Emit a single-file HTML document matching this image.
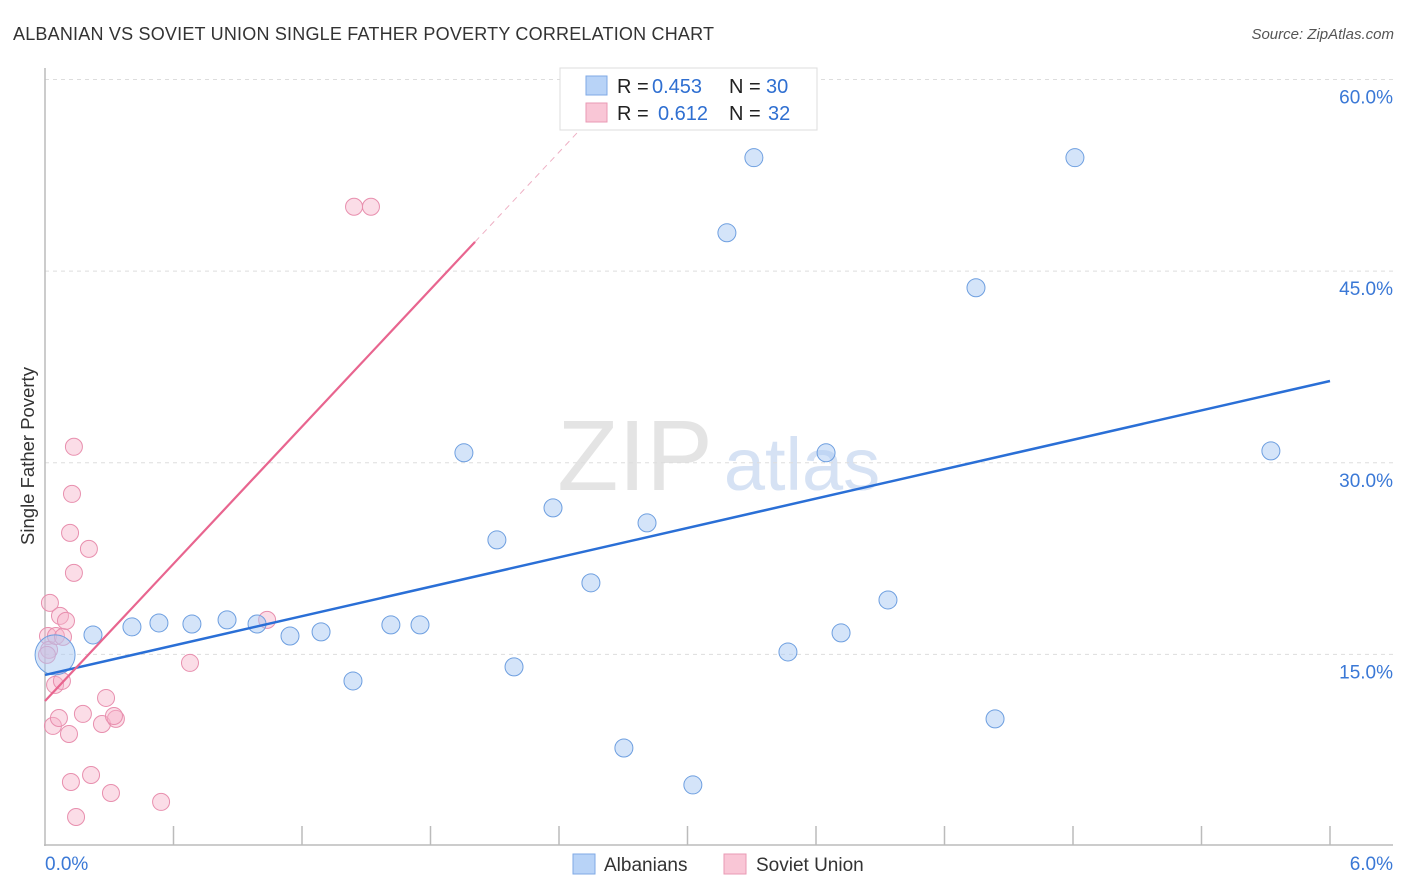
<!DOCTYPE html>
<html><head><meta charset="utf-8">
<style>
body{margin:0;background:#fff;font-family:"Liberation Sans",sans-serif;}
#wrap{position:relative;width:1406px;height:892px;overflow:hidden;}
svg text{font-family:"Liberation Sans",sans-serif;}
</style></head>
<body>
<div id="wrap">
<svg id="chart" width="1406" height="892">
  <text x="13" y="40" font-size="18" fill="#333" textLength="701">ALBANIAN VS SOVIET UNION SINGLE FATHER POVERTY CORRELATION CHART</text>
  <text x="1394" y="39" font-size="15" fill="#555" font-style="italic" text-anchor="end">Source: ZipAtlas.com</text>
  <text x="34" y="456" font-size="18.5" fill="#333" text-anchor="middle" transform="rotate(-90 34 456)">Single Father Poverty</text>
  <g>
    <text x="635" y="490" font-size="100" fill="#e4e4e4" text-anchor="middle" font-family="Liberation Serif,serif">ZIP</text>
    <text x="802" y="490" font-size="74" fill="#d6e2f4" text-anchor="middle">atlas</text>
  </g>
  <g id="grid"></g>
  <g id="axes"></g>
  <g id="marks"></g>
  <g>
    <rect x="560" y="68" width="257" height="62" fill="#fff" stroke="#ddd"/>
    <rect x="586" y="76" width="21" height="19" fill="#b8d3f7" stroke="#7fa9e6"/>
    <rect x="586" y="103" width="21" height="19" fill="#f9c6d6" stroke="#e99ab4"/>
    <text x="617" y="93" font-size="20" fill="#222">R =</text>
    <text x="652" y="93" font-size="20" fill="#2f6fd1">0.453</text>
    <text x="729" y="93" font-size="20" fill="#222">N =</text>
    <text x="766" y="93" font-size="20" fill="#2f6fd1">30</text>
    <text x="617" y="120" font-size="20" fill="#222">R =</text>
    <text x="658" y="120" font-size="20" fill="#2f6fd1">0.612</text>
    <text x="729" y="120" font-size="20" fill="#222">N =</text>
    <text x="768" y="120" font-size="20" fill="#2f6fd1">32</text>
  </g>
  <g>
    <rect x="573" y="854" width="22" height="20" fill="#b8d3f7" stroke="#7fa9e6"/>
    <text x="604" y="871" font-size="19" fill="#333">Albanians</text>
    <rect x="724" y="854" width="22" height="20" fill="#f9c6d6" stroke="#e99ab4"/>
    <text x="756" y="871" font-size="19" fill="#333">Soviet Union</text>
  </g>
</svg>
</div>
<script>
const yTicks=[15,30,45,60];
const yTickLabels=["15.0%","30.0%","45.0%","60.0%"];
const xTickCount=10;
const xEndLabels=["0.0%","6.0%"];
const blueX=[0.047,0.224,0.406,0.532,0.686,0.850,0.990,1.144,1.289,1.438,1.615,1.751,1.956,2.110,2.190,2.372,2.549,2.703,2.811,3.025,3.184,3.310,3.469,3.647,3.717,3.936,4.347,4.436,4.809,5.724];
const blueY=[14.96,16.52,17.15,17.46,17.38,17.70,17.38,16.44,16.76,12.92,17.31,17.31,30.78,23.96,14.02,26.47,20.60,7.67,25.29,4.78,48.00,53.88,15.19,30.78,16.68,19.26,43.70,9.95,53.88,30.93];
const pinkX=[0.023,0.014,0.019,0.051,0.084,0.070,0.098,0.135,0.126,0.117,0.205,0.135,0.047,0.079,0.037,0.065,0.112,0.177,0.285,0.266,0.331,0.322,0.677,1.037,1.443,1.522,0.121,0.215,0.308,0.542,0.145,0.009];
const pinkY=[19.03,16.44,15.35,16.44,16.37,18.01,17.62,31.25,27.56,24.51,23.26,21.38,12.61,12.92,9.40,10.02,8.77,10.34,11.59,9.55,9.95,10.18,14.33,17.70,50.04,50.04,5.01,5.56,4.15,3.45,2.27,14.96];
const blueTrend=[13.39,36.4];   // y at x=0 and x=6
const pinkTrend=[11.35,17.9];   // intercept, slope

const NS="http://www.w3.org/2000/svg";
const X=v=>45+v*(1330-45)/6;
const Y=v=>846-v*(846-79.5)/60;
function mk(tag,attrs,parent){const e=document.createElementNS(NS,tag);for(const k in attrs)e.setAttribute(k,attrs[k]);document.getElementById(parent).appendChild(e);return e;}

yTicks.forEach((t,i)=>{
  const g=mk('line',{x1:45,x2:1393,y1:Y(t),y2:Y(t),stroke:'#ddd','stroke-dasharray':'4 4'},'grid');
  
  
  const l=mk('text',{x:1393,y:Y(t)+24,'font-size':19,fill:'#3a78d6','text-anchor':'end'},'axes');
  l.textContent=yTickLabels[i];
  
  
});
let a=mk('line',{x1:45,x2:45,y1:68,y2:846,stroke:'#bbb','stroke-width':1.5},'axes');


a=mk('line',{x1:44,x2:1393,y1:845,y2:845,stroke:'#bbb','stroke-width':1.5},'axes');


for(let i=1;i<=xTickCount;i++){
  const t=mk('line',{x1:X(i*0.6),x2:X(i*0.6),y1:826,y2:845,stroke:'#bbb','stroke-width':1.5},'axes');
  
  
}
let xl=mk('text',{x:45,y:870,'font-size':19,fill:'#3a78d6'},'axes');xl.textContent=xEndLabels[0];


xl=mk('text',{x:1393,y:870,'font-size':19,fill:'#3a78d6','text-anchor':'end'},'axes');xl.textContent=xEndLabels[1];



pinkX.forEach((x,i)=>{
  const c=mk('circle',{cx:X(x),cy:Y(pinkY[i]),r:8.5,fill:'rgba(246,180,202,0.45)',stroke:'#e88fae','stroke-width':1},'marks');
  
  
});
blueX.forEach((x,i)=>{
  const c=mk('circle',{cx:X(x),cy:Y(blueY[i]),r:i===0?20:9,fill:'rgba(170,202,243,0.5)',stroke:'#6e9fe0','stroke-width':1},'marks');
  
  
});
let tl=mk('line',{x1:X(0),y1:Y(blueTrend[0]),x2:X(6),y2:Y(blueTrend[1]),stroke:'#2a6fd6','stroke-width':2.5},'marks');


const pe=2.008, pd=2.5;
tl=mk('line',{x1:X(0),y1:Y(pinkTrend[0]),x2:X(pe),y2:Y(pinkTrend[0]+pinkTrend[1]*pe),stroke:'#e8658f','stroke-width':2.2},'marks');


tl=mk('line',{x1:X(pe),y1:Y(pinkTrend[0]+pinkTrend[1]*pe),x2:X(pd),y2:Y(pinkTrend[0]+pinkTrend[1]*pd),stroke:'#eeb0c4','stroke-width':1,'stroke-dasharray':'6 5'},'marks');


</script>
</body></html>
